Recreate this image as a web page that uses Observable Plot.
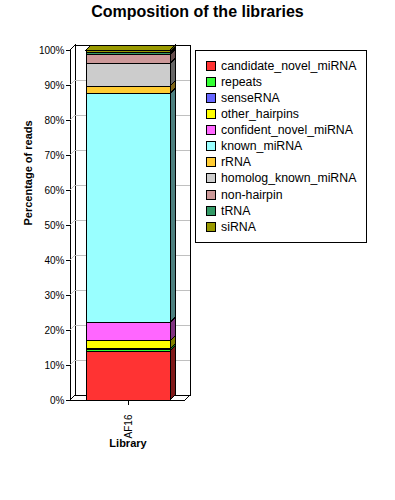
<!DOCTYPE html>
<html><head><meta charset="utf-8">
<script src="https://cdn.jsdelivr.net/npm/d3@7"></script>
<script src="https://cdn.jsdelivr.net/npm/@observablehq/plot@0.6"></script>
<style>
body{margin:0;background:#fff;}
#wrap{position:relative;width:395px;height:500px;font-family:"Liberation Sans",Arial,Helvetica,sans-serif;overflow:hidden;background:#fff}
#title{position:absolute;top:2px;left:0;width:395px;text-align:center;font-weight:bold;font-size:16px;line-height:20px;color:#000}
#chart{position:absolute;left:0;top:40px}
#legend{position:absolute;left:195px;top:50px;width:170px;height:191px;border:1px solid #000;background:#fff}
.item{position:absolute;left:10px;height:14px;font-size:12.3px;line-height:14px;white-space:nowrap;color:#000}
.sw{position:absolute;left:0;top:2px;width:8px;height:8px;border:1px solid #000}
.lab{position:absolute;left:15px;top:0}
</style></head>
<body>
<div id="wrap">
<div id="title">Composition of the libraries</div>
<div id="chart"></div>
<div id="legend"></div>
</div>
<script>
// ---- data ----
const library = ["AF16"];
const categories = ["candidate_novel_miRNA","repeats","senseRNA","other_hairpins","confident_novel_miRNA","known_miRNA","rRNA","homolog_known_miRNA","non-hairpin","tRNA","siRNA"];
const percentages = [14.0, 0.5, 0.1, 2.3, 5.2, 65.5, 2.1, 6.5, 2.5, 0.6, 0.7];
const colors = ["#FF3333","#33FF33","#6666FF","#FFFF00","#FF66FF","#99FFFF","#FFCC33","#CCCCCC","#CC9999","#339966","#999900"];
const yTicks = [0,10,20,30,40,50,60,70,80,90,100];

// ---- styles ----
const D = 5; // 3D depth in px
const GRID = "#c0c0c0";

const data = categories.map((c, i) => ({library: library[0], category: c, value: percentages[i]}));

function half(c) { const r = d3.rgb(c); return d3.rgb(r.r * 0.5, r.g * 0.5, r.b * 0.5).formatHex(); }

function walls(index, scales, values, dims) {
  const L = dims.marginLeft, R = dims.width - dims.marginRight;
  const T = scales.y(100), B = scales.y(0);
  const g = d3.create("svg:g").attr("shape-rendering", "crispEdges");
  g.append("path").attr("d", `M${L},${B}L${R},${B}L${R+D},${B-D}L${L+D},${B-D}Z`).attr("fill", "white").attr("stroke", "black");
  g.append("path").attr("d", `M${L},${B}L${L},${T}L${L+D},${T-D}L${L+D},${B-D}Z`).attr("fill", "white").attr("stroke", "black");
  g.append("rect").attr("x", L + D).attr("y", T - D).attr("width", R - L).attr("height", B - T).attr("fill", "white").attr("stroke", "black");
  for (const t of yTicks.slice(1, -1)) {
    const y = scales.y(t);
    g.append("line").attr("x1", L + D).attr("x2", R + D).attr("y1", y - D).attr("y2", y - D).attr("stroke", GRID);
    g.append("line").attr("x1", L).attr("x2", L + D).attr("y1", y).attr("y2", y - D).attr("stroke", GRID);
  }
  return g.node();
}

function faces(index, scales, values, dims) {
  const g = d3.create("svg:g").attr("shape-rendering", "crispEdges");
  for (const lib of library) {
    const x0 = scales.x(lib), x1 = x0 + scales.x.bandwidth();
    let cum = 0;
    percentages.forEach((v, i) => {
      const ya = scales.y(cum), yb = scales.y(cum + v);
      cum += v;
      g.append("path").attr("d", `M${x1},${ya}L${x1},${yb}L${x1+D},${yb-D}L${x1+D},${ya-D}Z`)
        .attr("fill", half(colors[i])).attr("stroke", "black");
    });
    const yt = scales.y(cum);
    g.append("path").attr("d", `M${x0},${yt}L${x1},${yt}L${x1+D},${yt-D}L${x0+D},${yt-D}Z`)
      .attr("fill", colors[colors.length - 1]).attr("stroke", "black");
  }
  return g.node();
}

const chart = Plot.plot({
  width: 395, height: 460,
  marginLeft: 70, marginRight: 210, marginTop: 10, marginBottom: 100,
  x: {domain: library, padding: 0.155, label: null},
  y: {domain: [0, 100], label: null},
  color: {domain: categories, range: colors},
  style: {fontFamily: "'Liberation Sans', Arial, sans-serif", fontSize: "10px", background: "white", color: "black", overflow: "visible"},
  marks: [
    walls,
    Plot.barY(data, {x: "library", y: "value", fill: "category", stroke: "black", strokeWidth: 1, shapeRendering: "crispEdges"}),
    faces,
    Plot.axisY({ticks: yTicks, tickFormat: d => d + "%", tickSize: 4, tickPadding: 2, label: null, shapeRendering: "crispEdges"}),
    Plot.axisX({tickRotate: -90, tickSize: 5, tickPadding: 9, label: null, shapeRendering: "crispEdges"}),
    Plot.text(["Percentage of reads"], {frameAnchor: "left", dx: -42, rotate: -90, fontWeight: "bold", fontSize: 11}),
    Plot.text(["Library"], {frameAnchor: "bottom", dy: 46, fontWeight: "bold", fontSize: 11})
  ]
});
document.getElementById("chart").appendChild(chart);

// legend
const leg = d3.select("#legend");
categories.forEach((c, i) => {
  const it = leg.append("div").attr("class", "item").style("top", (8 + 16.07 * i) + "px");
  it.append("div").attr("class", "sw").style("background", colors[i]);
  it.append("div").attr("class", "lab").text(c);
});
</script>
</body></html>
